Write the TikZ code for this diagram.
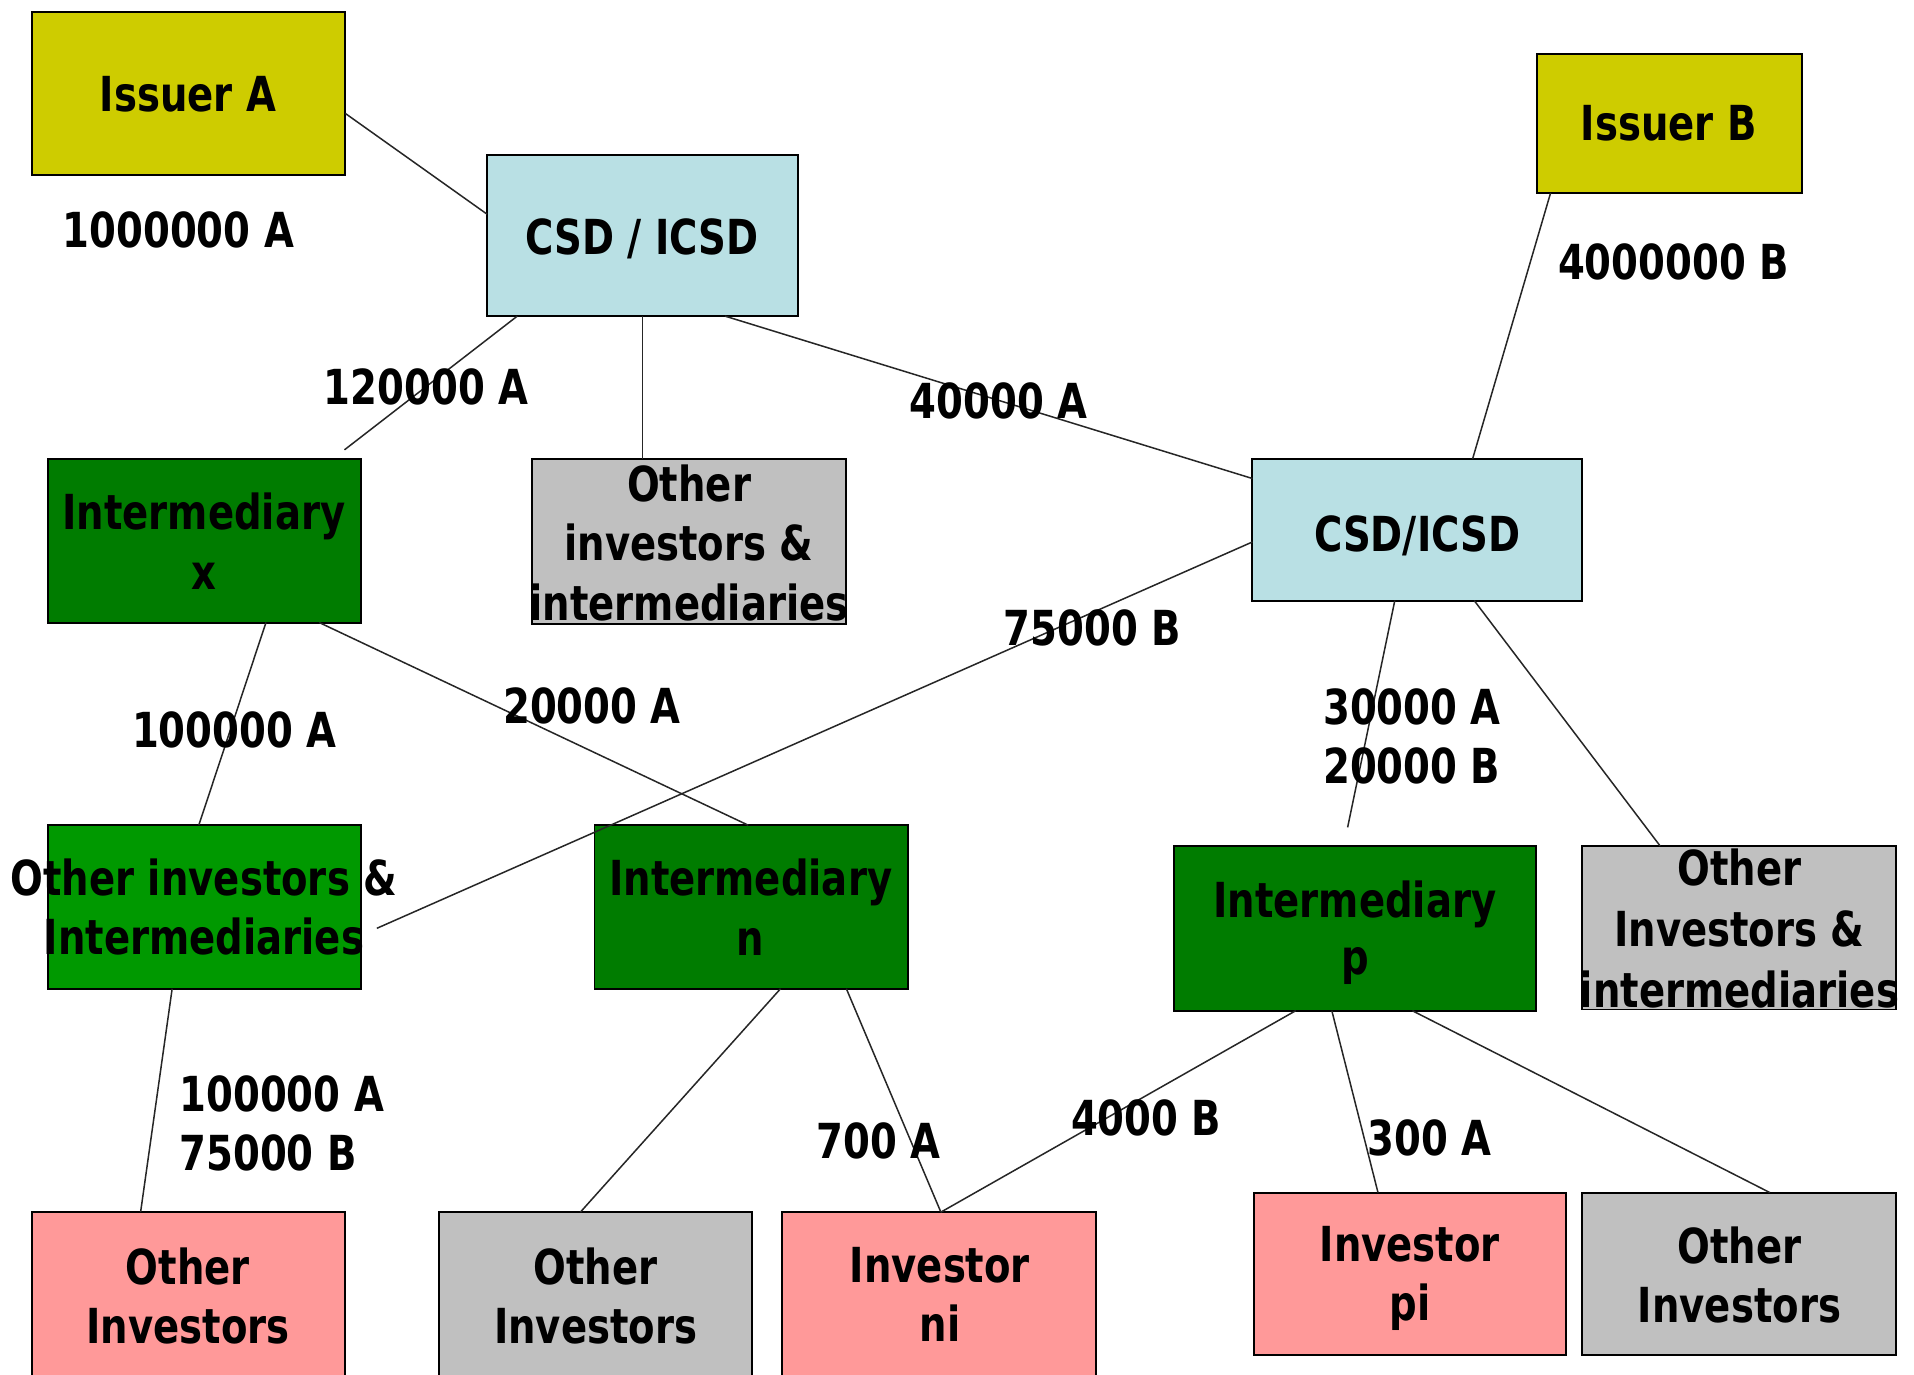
\documentclass[tikz,border=0pt]{standalone}
\usepackage{fontspec}
\newfontfamily\dvfont{DejaVu Sans}[FakeStretch=0.80]
\usetikzlibrary{fit,calc}
\definecolor{yel}{RGB}{206,204,0}
\definecolor{lblue}{RGB}{185,224,228}
\definecolor{dgreen}{RGB}{0,124,0}
\definecolor{mgreen}{RGB}{0,153,0}
\definecolor{lgray}{RGB}{192,192,192}
\definecolor{pinkc}{RGB}{255,153,153}
\begin{document}
\begin{tikzpicture}[x=0.02cm,y=-0.02cm,
  box/.style={draw=black, line width=0.9pt, inner sep=0pt, outer sep=0pt},
  conn/.style={draw=black!85, line width=0.7pt},
  txt/.style={font=\dvfont\bfseries\fontsize{22.5}{27}\selectfont, inner sep=0pt, outer sep=0pt,
    align=center, anchor=north, execute at begin node=\strut, execute at end node=\strut},
  lsp/.style={font=\dvfont\bfseries\fontsize{22.5}{#1}\selectfont},
  ]
\useasboundingbox (0,0) rectangle (1568,1126);
\fill[white] (0,0) rectangle (1568,1126);
\clip (0,0) rectangle (1568,1126);

% boxes
\node[box, fill=yel,    fit={(26,10)(283,143)}]     (ia)   {};
\node[box, fill=lblue,  fit={(399,127)(654,259)}]   (csdl) {};
\node[box, fill=yel,    fit={(1259,44)(1476,158)}]  (ib)   {};
\node[box, fill=dgreen, fit={(39,376)(296,510)}]    (ix)   {};
\node[box, fill=lgray,  fit={(436,376)(693,511)}]   (oii)  {};
\node[box, fill=lblue,  fit={(1026,376)(1296,492)}] (csdr) {};
\node[box, fill=mgreen, fit={(39,676)(296,810)}]    (oig)  {};
\node[box, fill=dgreen, fit={(487,676)(744,810)}]   (inn)  {};
\node[box, fill=dgreen, fit={(962,693)(1258,828)}]  (inp)  {};
\node[box, fill=lgray,  fit={(1296,693)(1553,827)}] (oir)  {};
\node[box, fill=pinkc,  fit={(26,993)(283,1150)}]   (op)   {};
\node[box, fill=lgray,  fit={(360,993)(616,1150)}]  (og)   {};
\node[box, fill=pinkc,  fit={(641,993)(898,1150)}]  (ni)   {};
\node[box, fill=pinkc,  fit={(1027,977)(1283,1110)}] (pi)  {};
\node[box, fill=lgray,  fit={(1296,977)(1553,1110)}] (ob)  {};

% free ends
\coordinate (e1) at (282.2,368.5);
\coordinate (e2) at (308.7,760.5);
\coordinate (e3) at (1104,677.8);

% connectors
\draw[conn] ($(ia.north east)!0.624!(ia.south east)$) -- ($(csdl.north west)!0.367!(csdl.south west)$);
\draw[conn] ($(csdl.south west)!0.097!(csdl.south east)$) -- (e1);
\draw[conn] (csdl.south) -- (csdl.south |- oii.north);
\draw[conn] ($(csdl.south west)!0.765!(csdl.south east)$) -- ($(csdr.north west)!0.138!(csdr.south west)$);
\draw[conn] ($(ib.south west)!0.052!(ib.south east)$) -- ($(csdr.north west)!0.668!(csdr.north east)$);
\draw[conn] ($(csdr.north west)!0.586!(csdr.south west)$) -- (e2);
\draw[conn] ($(csdr.south west)!0.432!(csdr.south east)$) -- (e3);
\draw[conn] ($(csdr.south west)!0.673!(csdr.south east)$) -- ($(oir.north west)!0.249!(oir.north east)$);
\draw[conn] ($(ix.south west)!0.696!(ix.south east)$) -- ($(oig.north west)!0.482!(oig.north east)$);
\draw[conn] ($(ix.south west)!0.866!(ix.south east)$) -- ($(inn.north west)!0.490!(inn.north east)$);
\draw[conn] ($(oig.south west)!0.397!(oig.south east)$) -- ($(op.north west)!0.347!(op.north east)$);
\draw[conn] ($(inn.south west)!0.593!(inn.south east)$) -- ($(og.north west)!0.451!(og.north east)$);
\draw[conn] ($(inn.south west)!0.803!(inn.south east)$) -- ($(ni.north west)!0.505!(ni.north east)$);
\draw[conn] ($(inp.south west)!0.336!(inp.south east)$) -- ($(ni.north west)!0.505!(ni.north east)$);
\draw[conn] ($(inp.south west)!0.436!(inp.south east)$) -- ($(pi.north west)!0.398!(pi.north east)$);
\draw[conn] ($(inp.south west)!0.659!(inp.south east)$) -- ($(ob.north west)!0.599!(ob.north east)$);

% box texts
\node[txt] (ia-t)   at (154,58.3)    {Issuer A};
\node[txt] (csdl-t) at (526,175.3)   {CSD / ICSD};
\node[txt] (ib-t)   at (1367,82.3)   {Issuer B};
\node[txt] (csdr-t) at (1161,418.3)  {CSD/ICSD};
\node[txt, lsp=28] (ix-t) at (167,403.5) {Intermediary\\x};
\node[txt, lsp=27.8] (oii-t) at (564.5,380.5) {Other\\investors \&\\intermediaries};
\node[txt, lsp=27.5] (oig-t) at (167,703.5) {Other investors \&\\Intermediaries};
\node[txt, lsp=28] (inn-t) at (615,703.5) {Intermediary\\n};
\node[txt, lsp=26.5] (inp-t) at (1110,721.6) {Intermediary\\p};
\node[txt, lsp=28.5] (oir-t) at (1425,695) {Other\\Investors \&\\intermediaries};
\node[txt, lsp=27.5] (op-t) at (154,1022)  {Other\\Investors};
\node[txt, lsp=27.5] (og-t) at (488,1022)  {Other\\Investors};
\node[txt, lsp=27.5] (ni-t) at (770,1022)  {Investor\\ni};
\node[txt, lsp=27.5] (pi-t) at (1155,1005) {Investor\\pi};
\node[txt, lsp=27.5] (ob-t) at (1425,1005) {Other\\Investors};

% amount labels
\node[txt] (l1)  at (146,169.5)  {1000000 A};
\node[txt] (l2)  at (349,298)    {120000 A};
\node[txt] (l3)  at (818,310)    {40000 A};
\node[txt] (l4)  at (1371,195.5) {4000000 B};
\node[txt] (l5)  at (895,496)    {75000 B};
\node[txt] (l6)  at (192,579)    {100000 A};
\node[txt] (l7)  at (485,559.5)  {20000 A};
\node[txt, lsp=27.5, anchor=north west, align=left] (l8) at (1084,564.5) {30000 A\\20000 B};
\node[txt, lsp=27.5, anchor=north west, align=left] (l9) at (147,881.5)  {100000 A\\75000 B};
\node[txt] (l10) at (720,915.8)  {700 A};
\node[txt] (l11) at (939,896.8)  {4000 B};
\node[txt] (l12) at (1171,913.8) {300 A};
\end{tikzpicture}
\end{document}
